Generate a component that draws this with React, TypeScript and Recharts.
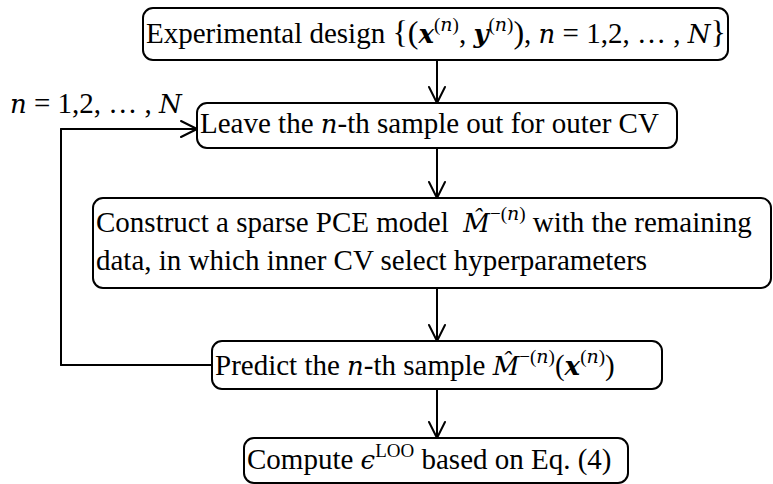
import React from "react"
import { ComposedChart, XAxis, YAxis, ReferenceArea, ReferenceLine, Scatter } from "recharts"

const W = 773
const H = 484

// box extents, in page units
const boxLeft = [143, 197, 93, 212, 244]
const boxRight = [728, 677, 771, 662, 628]
const boxTop = [8, 103, 198, 341, 438]
const boxBottom = [60, 148, 288, 389, 483]

const flowX = 437

// feedback loop: Predict box -> left side -> Leave box
const loopX = 61
const loopTop = 129
const loopBottom = 365

// m = math symbol (italic), b = bold, sup = superscript, big = enlarged bracket
type Seg = { t: string; m?: boolean; b?: boolean; sup?: boolean; big?: boolean }

const labels: { x: number; y: number; segs: Seg[] }[] = [
  {
    x: 146,
    y: 43,
    segs: [
      { t: "Experimental design " },
      { t: "{(", big: true },
      { t: "x", m: true, b: true },
      { t: "(", sup: true },
      { t: "n", m: true, sup: true },
      { t: ")", sup: true },
      { t: ", " },
      { t: "y", m: true, b: true },
      { t: "(", sup: true },
      { t: "n", m: true, sup: true },
      { t: ")", sup: true },
      { t: ")", big: true },
      { t: ", " },
      { t: "n", m: true },
      { t: " = 1,2, … , " },
      { t: "N", m: true },
      { t: "}", big: true },
    ],
  },
  {
    x: 10,
    y: 113,
    segs: [{ t: "n", m: true }, { t: " = 1,2, … , " }, { t: "N", m: true }],
  },
  {
    x: 200,
    y: 133,
    segs: [{ t: "Leave the " }, { t: "n", m: true }, { t: "-th sample out for outer CV" }],
  },
  {
    x: 96,
    y: 232,
    segs: [
      { t: "Construct a sparse PCE model  " },
      { t: "M\u0302", m: true },
      { t: "−(", sup: true },
      { t: "n", m: true, sup: true },
      { t: ")", sup: true },
      { t: " with the remaining" },
    ],
  },
  {
    x: 96,
    y: 270,
    segs: [{ t: "data, in which inner CV select hyperparameters" }],
  },
  {
    x: 215,
    y: 375,
    segs: [
      { t: "Predict the " },
      { t: "n", m: true },
      { t: "-th sample " },
      { t: "M\u0302", m: true },
      { t: "−(", sup: true },
      { t: "n", m: true, sup: true },
      { t: ")", sup: true },
      { t: "(" },
      { t: "x", m: true, b: true },
      { t: "(", sup: true },
      { t: "n", m: true, sup: true },
      { t: ")", sup: true },
      { t: ")" },
    ],
  },
  {
    x: 247,
    y: 469,
    segs: [
      { t: "Compute " },
      { t: "ϵ", m: true },
      { t: "LOO", sup: true },
      { t: " based on Eq. (4)" },
    ],
  },
]

const FS = 29
const SUP = 19
const RISE = 12

const RichText = (props: any) => {
  const { cx, cy, payload } = props
  let prevSup = false
  return (
    <text x={cx} y={cy} fontFamily="'Liberation Serif', 'Times New Roman', serif" fontSize={FS} fill="#000">
      {payload.segs.map((s: Seg, k: number) => {
        const dy = (s.sup ? -RISE : 0) - (prevSup ? -RISE : 0)
        prevSup = !!s.sup
        let size = s.sup ? SUP : FS
        if (s.m && !s.sup) size = 26
        if (s.big) size = 32
        return (
          <tspan
            key={k}
            dy={dy}
            fontFamily={s.m ? "'DejaVu Serif', serif" : undefined}
            fontStyle={s.m ? "italic" : "normal"}
            fontWeight={s.b ? "bold" : "normal"}
            fontSize={size}
            style={{ whiteSpace: "pre" }}
          >
            {s.t}
          </tspan>
        )
      })}
    </text>
  )
}

const line = { stroke: "#000", strokeWidth: 2, strokeLinecap: "round" as const }

export default function App() {
  const arrows = boxBottom.slice(0, -1).map((b, k) => ({ from: b, to: boxTop[k + 1] }))
  return (
    <div style={{ position: "absolute", left: 0, top: 0, width: W, height: H, background: "#fff" }}>
      <ComposedChart width={W} height={H} data={labels} margin={{ top: 0, right: 0, bottom: 0, left: 0 }}>
        <XAxis type="number" dataKey="x" domain={[0, W]} hide />
        <YAxis type="number" dataKey="y" domain={[0, H]} reversed hide />

        {/* feedback loop */}
        <ReferenceLine segment={[{ x: boxLeft[3], y: loopBottom }, { x: loopX, y: loopBottom }]} {...line} />
        <ReferenceLine segment={[{ x: loopX, y: loopBottom }, { x: loopX, y: loopTop }]} {...line} />
        <ReferenceLine segment={[{ x: loopX, y: loopTop }, { x: boxLeft[1], y: loopTop }]} {...line} />
        <ReferenceLine segment={[{ x: boxLeft[1] - 16, y: loopTop - 8 }, { x: boxLeft[1], y: loopTop }]} {...line} />
        <ReferenceLine segment={[{ x: boxLeft[1] - 16, y: loopTop + 8 }, { x: boxLeft[1], y: loopTop }]} {...line} />

        {/* downward arrows */}
        {arrows.map((a, k) => (
          <ReferenceLine key={"s" + k} segment={[{ x: flowX, y: a.from }, { x: flowX, y: a.to }]} {...line} />
        ))}
        {arrows.map((a, k) => (
          <ReferenceLine key={"l" + k} segment={[{ x: flowX - 8, y: a.to - 16 }, { x: flowX, y: a.to }]} {...line} />
        ))}
        {arrows.map((a, k) => (
          <ReferenceLine key={"r" + k} segment={[{ x: flowX + 8, y: a.to - 16 }, { x: flowX, y: a.to }]} {...line} />
        ))}

        {boxLeft.map((l, k) => (
          <ReferenceArea
            key={"b" + k}
            x1={l}
            x2={boxRight[k]}
            y1={boxTop[k]}
            y2={boxBottom[k]}
            shape={(p: any) => (
              <rect x={p.x} y={p.y} width={p.width} height={p.height} rx={10} ry={10} fill="#fff" stroke="#000" strokeWidth={2} />
            )}
          />
        ))}

        <Scatter data={labels} dataKey="y" shape={RichText} isAnimationActive={false} />
      </ComposedChart>
    </div>
  )
}
